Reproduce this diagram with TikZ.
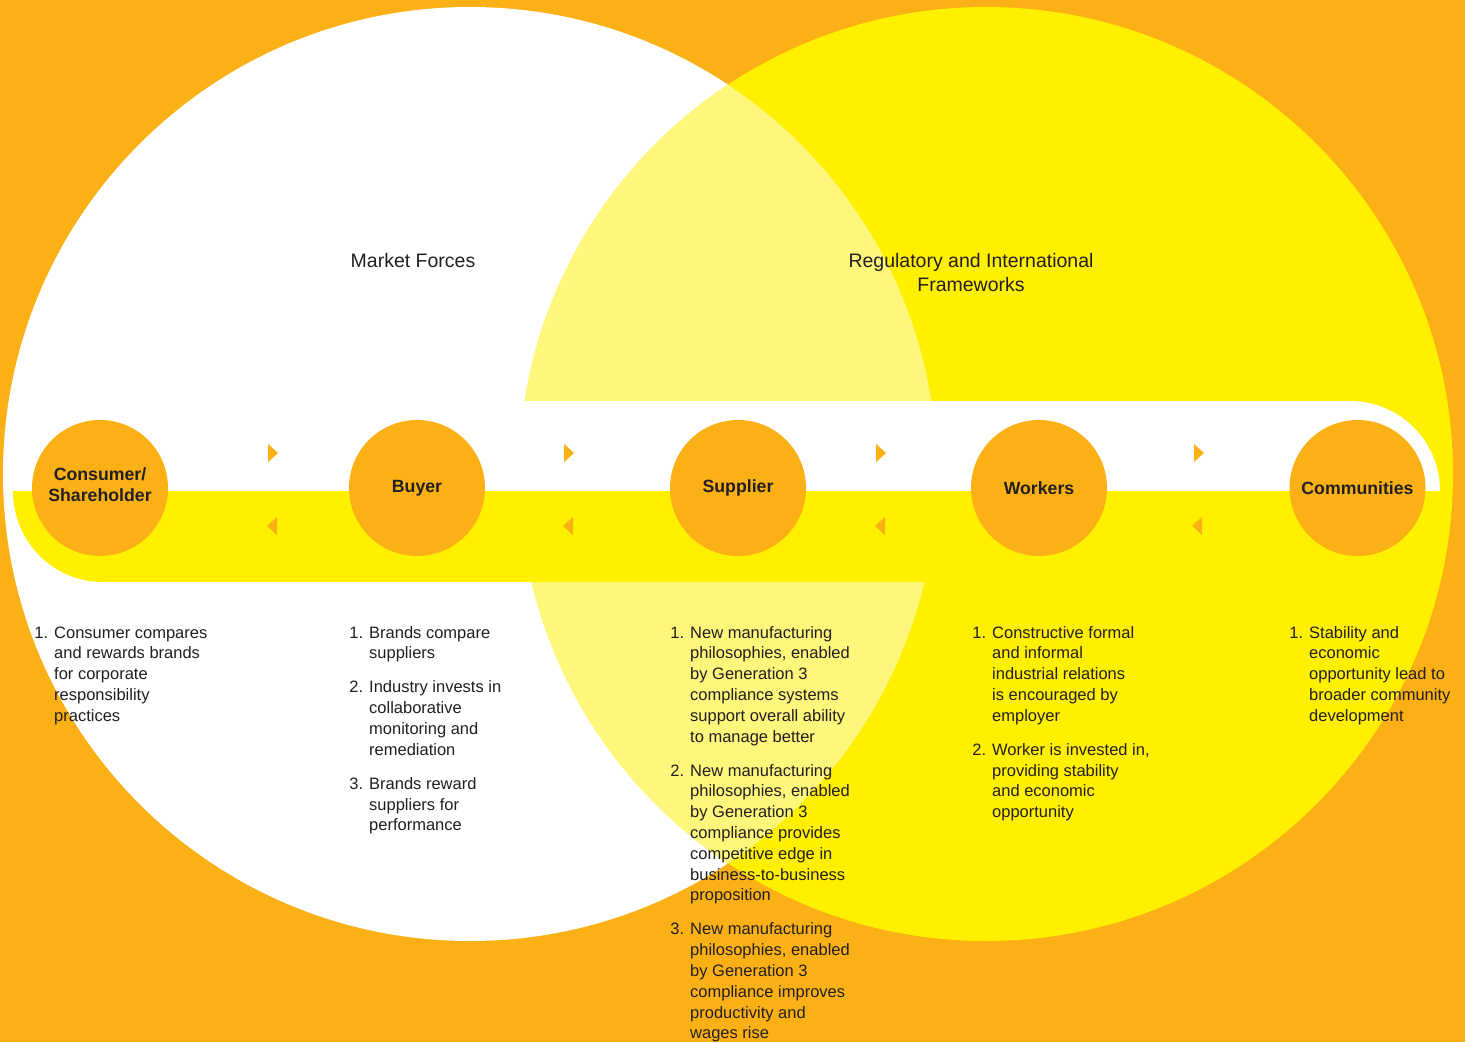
\documentclass[tikz,border=0pt]{standalone}
\usepackage{fontspec}
\setmainfont{Liberation Sans}
\definecolor{bgorange}{HTML}{FBB116}
\definecolor{yel}{HTML}{FFF000}
\definecolor{lyel}{HTML}{FFF67C}
\definecolor{ink}{HTML}{231F20}
\newcommand\numitem[1]{\leavevmode\llap{#1.\hspace{6pt}}}
\begin{document}
\begin{tikzpicture}[x=1pt,y=-1pt,
  actor/.style={circle, fill=bgorange, minimum size=136pt, inner sep=0pt, align=center,
    font=\fontsize{17.7pt}{21pt}\selectfont\bfseries, text=ink},
  listtxt/.style={anchor=base west, inner sep=0pt, text=ink,
    font=\fontsize{16.5pt}{20.8pt}\selectfont},
  titletxt/.style={anchor=base, inner sep=0pt, text=ink,
    font=\fontsize{19.5pt}{24pt}\selectfont},
  tri/.style={fill=bgorange}]
\useasboundingbox (0,0) rectangle (1465,1042);
\clip (0,0) rectangle (1465,1042);
\fill[bgorange] (0,0) rectangle (1465,1042);
% big circles
\fill[white] (470,474) circle[radius=467pt];
\fill[yel] (986,474) circle[radius=467pt];
\begin{scope}
  \clip (470,474) circle[radius=467pt];
  \fill[lyel] (986,474) circle[radius=467pt];
\end{scope}
% bands
\fill[white] (200,401) -- (1350,401) .. controls (1399.7,401) and (1440,441.3) .. (1440,491)
  -- (200,491) -- cycle;
\fill[yel] (13,491) -- (1300,491) -- (1300,582) -- (103,582)
  .. controls (53.3,582) and (13,541.7) .. (13,491) -- cycle;
% titles
\node[titletxt] (mf) at (413,267) {Market Forces};
\node[titletxt] (rf) at (971,267) {\parbox[t]{340pt}{\centering Regulatory and International\\Frameworks}};
% actors
\node[actor, text depth=6pt] (consumer) at (100,488) {Consumer/\\Shareholder};
\node[actor] (buyer) at (417,488) {Buyer};
\node[actor] (supplier) at (738,488) {Supplier};
\node[actor] (workers) at (1039,488) {Workers};
\node[actor] (communities) at (1357.5,488) {Communities};
% arrow heads
\foreach \x in {268,564,876,1194}{
  \fill[tri] (\x,444) -- (\x+10,453) -- (\x,462) -- cycle;
}
\foreach \x in {277,573,885,1202}{
  \fill[tri] (\x,517) -- (\x-10,526) -- (\x,535) -- cycle;
}
% lists
\node[listtxt] (list1) at (54,638) {\parbox[t]{220pt}{\raggedright
  \numitem{1}Consumer compares\\and rewards brands\\for corporate\\responsibility\\practices}};
\node[listtxt] (list2) at (369,638) {\parbox[t]{220pt}{\raggedright
  \numitem{1}Brands compare\\suppliers\\[13.2pt]
  \numitem{2}Industry invests in\\collaborative\\monitoring and\\remediation\\[13.2pt]
  \numitem{3}Brands reward\\suppliers for\\performance}};
\node[listtxt] (list3) at (690,638) {\parbox[t]{260pt}{\raggedright
  \numitem{1}New manufacturing\\philosophies, enabled\\by Generation 3\\compliance systems\\support overall ability\\to manage better\\[13.2pt]
  \numitem{2}New manufacturing\\philosophies, enabled\\by Generation 3\\compliance provides\\competitive edge in\\business-to-business\\proposition\\[13.2pt]
  \numitem{3}New manufacturing\\philosophies, enabled\\by Generation 3\\compliance improves\\productivity and\\wages rise}};
\node[listtxt] (list4) at (992,638) {\parbox[t]{240pt}{\raggedright
  \numitem{1}Constructive formal\\and informal\\industrial relations\\is encouraged by\\employer\\[13.2pt]
  \numitem{2}Worker is invested in,\\providing stability\\and economic\\opportunity}};
\node[listtxt] (list5) at (1309,638) {\parbox[t]{220pt}{\raggedright
  \numitem{1}Stability and\\economic\\opportunity lead to\\broader community\\development}};
\end{tikzpicture}
\end{document}
